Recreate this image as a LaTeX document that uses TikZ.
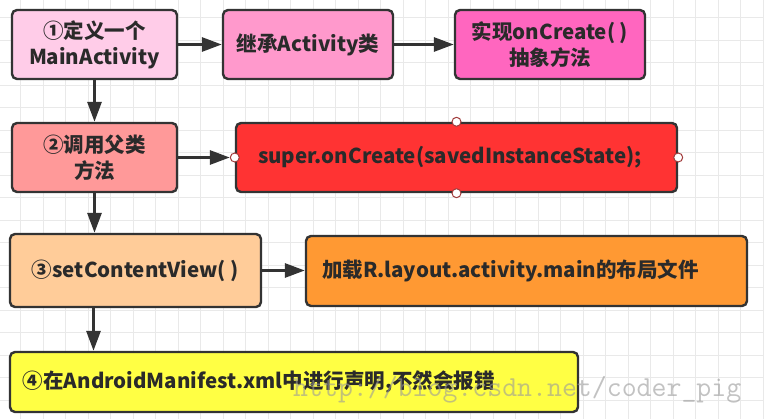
\documentclass[tikz,border=0pt]{standalone}
\usepackage{fontspec}
\setmainfont{Noto Sans CJK SC}
\usetikzlibrary{arrows.meta}
\definecolor{edge}{HTML}{333333}
\definecolor{txt}{HTML}{2A2A2A}
\definecolor{gridc}{HTML}{E9E9E9}
\definecolor{portc}{HTML}{A03A3A}
\definecolor{wmc}{HTML}{9A9A9A}
\definecolor{cA}{HTML}{FFCCE8}
\definecolor{cB}{HTML}{FF99CC}
\definecolor{cC}{HTML}{FF66BF}
\definecolor{cD}{HTML}{FF9999}
\definecolor{cE}{HTML}{FF3333}
\definecolor{cF}{HTML}{FFCC99}
\definecolor{cG}{HTML}{FF9933}
\definecolor{cH}{HTML}{FFFF44}
\tikzset{
  box/.style={draw=edge, line width=2.4pt, rounded corners=5pt, inner sep=0pt,
    align=center, text=txt, font=\fontsize{20.5}{26}\selectfont\bfseries},
  conn/.style={draw=edge, line width=3pt, -{Triangle[length=20pt,width=14pt]}},
  port/.style={circle, draw=portc, fill=white, line width=1pt, minimum size=9pt, inner sep=0pt},
  gridline/.style={draw=gridc, line width=0.9pt},
}
\begin{document}
\begin{tikzpicture}[x=1pt,y=-1pt]
\useasboundingbox (0,0) rectangle (764,419);
\fill[white] (0,0) rectangle (764,419);
% background grid
\foreach \i in {0,...,33} { \draw[gridline] (20.5+22.5*\i,0) -- (20.5+22.5*\i,419); }
\foreach \j in {-1,...,18} { \draw[gridline] (0,17.7+22.5*\j) -- (764,17.7+22.5*\j); }

\node[box, fill=cA, minimum width=165pt, minimum height=69pt] (b1) at (94.5,44.5) {①定义一个\\MainActivity};
\node[box, fill=cB, minimum width=170pt, minimum height=69pt] (b2) at (308,44.5) {继承Activity类};
\node[box, fill=cC, minimum width=190pt, minimum height=69pt] (b3) at (550,44.5) {实现onCreate( )\\抽象方法};
\node[box, fill=cD, minimum width=165pt, minimum height=69pt] (b4) at (94.5,157.5) {②调用父类\\方法};
\node[box, fill=cE, minimum height=69pt, text width=397pt, inner xsep=22pt, align=left] (b5) at (456.5,157.5) {super.onCreate(savedInstanceState);};
\node[box, fill=cF, minimum width=251pt, minimum height=73pt] (b6) at (135.5,270.5) {③setContentView( )};
\node[box, fill=cG, minimum height=70pt, text width=409pt, inner xsep=16pt, align=left] (b7) at (526.5,271) {加载R.layout.activity.main的布局文件};
\node[box, fill=cH, minimum height=60pt, text width=542pt, inner xsep=13pt, align=left] (b8) at (294,382) {④在AndroidManifest.xml中进行声明,不然会报错};

\node[port] (pw) at (b5.west) {};
\node[port] (pn) at (b5.north) {};
\node[port] (ps) at (b5.south) {};
\node[port] (pe) at (b5.east) {};

\draw[conn] (b1) -- (b2);
\draw[conn] (b2) -- (b3);
\draw[conn] (b1) -- (b4);
\draw[conn] (b4) -- (pw);
\draw[conn] (b4.south) -- (b4.south |- b6.north);
\draw[conn] (b6.east) -- (b6.east -| b7.west);
\draw[conn] ([xshift=-42pt]b6.south) -- ([xshift=-42pt]b6.south |- b8.north);

\node[anchor=base west, inner sep=0pt, font=\fontsize{29}{29}\selectfont\ttfamily, text=wmc, opacity=0.6] (wm) at (293,397) {http://blog.csdn.net/coder\_pig};
\end{tikzpicture}
\end{document}
